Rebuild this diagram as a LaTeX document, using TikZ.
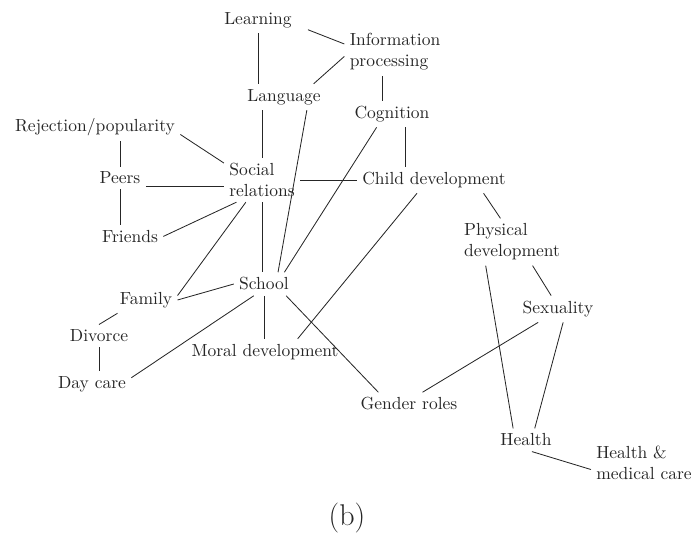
\documentclass[tikz,border=0pt]{standalone}
\usepackage{tikz}

\begin{document}
\begin{tikzpicture}[x=0.6pt, y=-0.6pt, draw=black!85, line width=0.5pt,
	topic/.style={inner sep=3pt, align=left, text=black!85, font=\fontsize{10.5}{12.6}\selectfont}]
	\useasboundingbox (0,0) rectangle (695,540);
	%topics
	\node[topic] (learning) at (258,20) {Learning};
	\node[topic] (info) at (395,52) {Information\\processing};
	\node[topic] (language) at (284,97) {Language};
	\node[topic] (cognition) at (392,114) {Cognition};
	\node[topic] (rejection) at (95,127) {Rejection/popularity};
	\node[topic] (social) at (262,180) {Social\\relations};
	\node[topic] (peers) at (120,178) {Peers};
	\node[topic] (child) at (434,180) {Child development};
	\node[topic] (friends) at (130,237) {Friends};
	\node[topic] (physical) at (512,242) {Physical\\development};
	\node[topic] (school) at (264,284) {School};
	\node[topic] (family) at (146,300) {Family};
	\node[topic] (sexuality) at (558,309) {Sexuality};
	\node[topic] (divorce) at (99,336) {Divorce};
	\node[topic] (moral) at (265,352) {Moral development};
	\node[topic] (daycare) at (92,384) {Day care};
	\node[topic] (gender) at (409,404) {Gender roles};
	\node[topic] (health) at (526,440) {Health};
	\node[topic] (medcare) at (644,463) {Health \&\\medical care};
	\node[font=\fontsize{18}{20}\selectfont, text=black!85] (caption) at (347,518) {(b)};
	%links
	\draw[shorten <=7pt] (learning.-8) -- (info.171);
	\draw (learning) -- (learning |- language.north);
	\draw (info.185) -- (language.24);
	\draw ([xshift=-6pt]cognition.north) -- ([xshift=-6pt]cognition.north |- info.south);
	\draw (social) -- (social |- language.south);
	\draw (language.-30) -- (school.40);
	\draw (cognition.221) -- (school.30);
	\draw ([xshift=8pt]cognition.south) -- ([xshift=8pt]cognition.south |- child.north);
	\draw (rejection.-5) -- (social.156);
	\draw (peers) -- (peers |- rejection.south);
	\draw ([yshift=-5pt]peers.east) -- ([yshift=-5pt]peers.east -| social.west);
	\draw (social.east) -- (social.east -| child.west);
	\draw (peers) -- (peers |- friends.north);
	\draw (friends.1) -- (social.221);
	\draw (social.234) -- (family.8);
	\draw (social) -- (social |- school.north);
	\draw (child.-15) -- (physical.116);
	\draw (child.218) -- (moral.22);
	\draw (school.-28) -- (gender.159);
	\draw (family.east) -- (school.west);
	\draw (school.229) -- (daycare.9);
	\draw (school) -- (school |- moral.north);
	\draw (family.205) -- (divorce.north);
	\draw (divorce) -- (divorce |- daycare.north);
	\draw (physical.-49) -- (sexuality.117);
	\draw (physical.222) -- (health.138);
	\draw (sexuality.214) -- (gender.41);
	\draw (sexuality.-69) -- (health.53);
	\draw (health.-63) -- (medcare.187);
\end{tikzpicture}
\end{document}
